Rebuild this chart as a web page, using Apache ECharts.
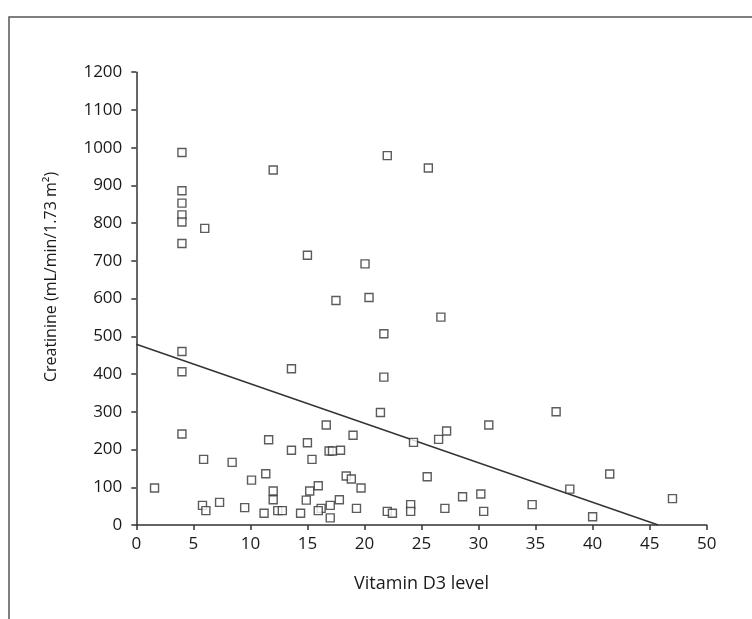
<!DOCTYPE html>
<html>
<head>
<meta charset="utf-8">
<script src="https://cdn.jsdelivr.net/npm/echarts@6/dist/echarts.min.js"></script>
<style>
  html, body { margin: 0; padding: 0; background: #fff; }
  #main { width: 752px; height: 619px; }
</style>
</head>
<body>
<div id="main"></div>
<script>
// vitamin D3 level vs creatinine
var xTicks = [0, 50, 5];
var yTicks = [0, 1200, 100];

var vitaminD = [
  4.0, 4.0, 4.0, 4.0, 4.0, 4.0, 4.0, 4.0, 4.0,
  6.0, 12.0,
  1.6, 5.9, 8.4, 10.1, 11.35, 11.6, 12.0, 12.0, 5.8, 6.1, 7.3, 9.5, 11.2, 12.4, 12.8,
  22.0, 25.6, 15.0, 20.05, 17.5, 20.4, 26.7,
  21.7, 13.6, 21.7, 21.4, 16.65, 15.0, 19.0, 13.6, 16.9, 17.2, 17.9, 15.4, 24.3, 26.5, 27.2,
  25.5, 18.4, 18.85, 19.7, 15.95, 15.2, 14.9, 17.8, 17.0, 16.2, 15.95, 19.3, 14.4, 17.0,
  22.0, 22.45, 24.05, 24.05, 27.05,
  30.9, 36.8, 28.6, 30.2, 30.45, 34.7, 38.0, 41.5, 40.0, 47.0
];
var creatinine = [
  987, 886, 853, 822, 803, 746, 460, 406, 241,
  786, 941,
  98, 174, 166, 119, 136, 226, 90, 67, 52, 38, 60, 46, 31, 38, 38,
  979, 946, 715, 692, 595, 603, 551,
  507, 414, 392, 298, 265, 218, 238, 198, 196, 196, 198, 174, 219, 227, 249,
  128, 130, 122, 98, 104, 90, 66, 67, 52, 44, 38, 44, 31, 19,
  36, 31, 54, 36, 44,
  265, 300, 75, 82, 36, 54, 95, 135, 22, 70
];
// fitted trend line ends
var trendX = [0, 45.75];
var trendY = [479, 0];

var points = vitaminD.map(function (v, i) { return [v, creatinine[i]]; });
var trend = trendX.map(function (v, i) { return [v, trendY[i]]; });

var chart = echarts.init(document.getElementById('main'));
var txt = '#1a1a1a';
var font = 'Open Sans';

var option = {
  animation: false,
  backgroundColor: '#fff',
  grid: { left: 136.3, right: 45.3, top: 72.2, bottom: 94 },
  xAxis: {
    type: 'value',
    min: xTicks[0], max: xTicks[1], interval: xTicks[2],
    name: 'Vitamin D3 level',
    nameLocation: 'middle',
    nameGap: 50,
    nameTextStyle: { fontFamily: font, fontSize: 18, color: txt },
    axisLine: { lineStyle: { color: '#333', width: 1.5 } },
    axisTick: { show: true, inside: false, length: 5, lineStyle: { color: '#333', width: 1.5 } },
    axisLabel: { fontFamily: font, fontSize: 17, color: txt, margin: 11 },
    splitLine: { show: false }
  },
  yAxis: {
    type: 'value',
    min: yTicks[0], max: yTicks[1], interval: yTicks[2],
    axisLine: { show: true, lineStyle: { color: '#333', width: 1.5 } },
    axisTick: { show: true, inside: false, length: 5, lineStyle: { color: '#333', width: 1.5 } },
    axisLabel: { fontFamily: font, fontSize: 17, color: txt, margin: 14,
      formatter: function (v) { return String(v); } },
    splitLine: { show: false }
  },
  graphic: [
    {
      type: 'polyline',
      shape: { points: [[9, 619], [9, 17], [752, 17]] },
      style: { stroke: '#555', lineWidth: 1.5, fill: null }
    },
    {
      type: 'text',
      x: 51, y: 277,
      rotation: Math.PI / 2,
      style: {
        text: 'Creatinine (mL/min/1.73 m²)',
        fontFamily: font, fontSize: 16, fill: txt,
        align: 'center', verticalAlign: 'middle'
      }
    }
  ],
  series: [
    {
      type: 'scatter',
      data: points,
      symbol: 'rect',
      symbolSize: 8,
      itemStyle: { color: '#fff', borderColor: '#333', borderWidth: 1.4 },
      z: 3
    },
    {
      type: 'line',
      data: trend,
      showSymbol: false,
      symbol: 'none',
      lineStyle: { color: '#333', width: 1.4 },
      z: 2
    }
  ]
};
chart.setOption(option);
</script>
</body>
</html>
